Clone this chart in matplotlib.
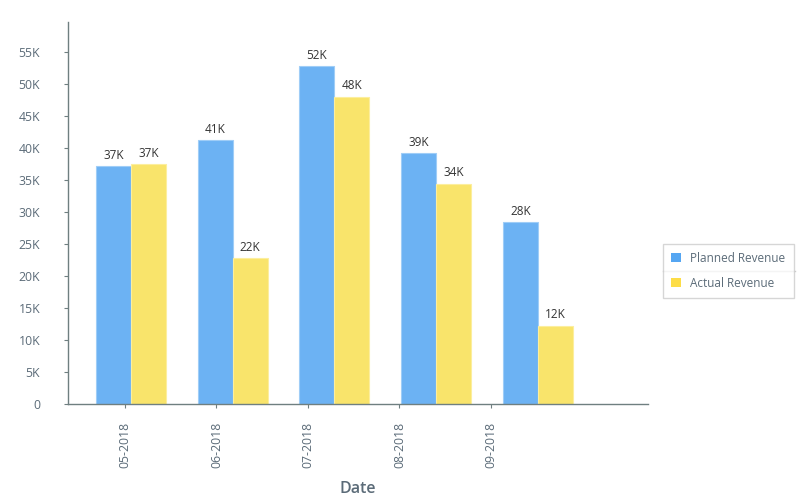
import matplotlib.pyplot as plt
from matplotlib.patches import Patch
from matplotlib.lines import Line2D

dates = ['05-2018', '06-2018', '07-2018', '08-2018', '09-2018']
planned = [37200, 41250, 52800, 39200, 28400]
actual = [37500, 22800, 48000, 34400, 12200]
y_ticks = [0, 5000, 10000, 15000, 20000, 25000, 30000, 35000, 40000, 45000, 50000, 55000]
y_labels = ['0'] + ['%dK' % (v // 1000) for v in y_ticks[1:]]

blue = '#6cb2f3'
yellow = '#f9e46b'
axis_col = '#6f7f80'
text_col = '#5b6b78'

plt.rcParams['font.family'] = ['Open Sans', 'DejaVu Sans']

fig = plt.figure(figsize=(8, 4.96), dpi=100)
ax = fig.add_axes([0.085, 0.1855, 0.725, 0.7701])

w = 0.344
for i in range(len(dates)):
    ax.bar(i - w / 2, planned[i], w, color=blue, edgecolor='#9fcdf7', linewidth=0.8)
    ax.bar(i + w / 2, actual[i], w, color=yellow, edgecolor='#fcee9e', linewidth=0.8)
    ax.text(i - w / 2, planned[i] + 700, '%dK' % (planned[i] // 1000), ha='center', va='bottom',
            fontsize=8.5, color='#333333')
    ax.text(i + w / 2, actual[i] + 700, '%dK' % (actual[i] // 1000), ha='center', va='bottom',
            fontsize=8.5, color='#333333')

ax.set_xlim(-0.619, 5.081)
ax.set_ylim(0, 59700)

# category ticks are spaced a bit tighter than the bar groups in the original
ax.set_xticks([-0.059 + i * 0.899 for i in range(len(dates))])
ax.set_xticklabels(dates, rotation=90, fontsize=8.8, color=text_col)
ax.set_yticks(y_ticks)
ax.set_yticklabels(y_labels, fontsize=8.8, color=text_col)

ax.tick_params(axis='y', length=3, color=axis_col, pad=17)
ax.tick_params(axis='x', length=3, color=axis_col, pad=10)

for s in ['top', 'right']:
    ax.spines[s].set_visible(False)
for s in ['left', 'bottom']:
    ax.spines[s].set_color(axis_col)
    ax.spines[s].set_linewidth(1)

ax.set_xlabel('Date', fontsize=11.5, color=text_col, fontweight='semibold', labelpad=9)

handles = [Patch(facecolor='#55a6f2', edgecolor='none'), Patch(facecolor='#fddd47', edgecolor='none')]
leg = fig.legend(handles, ['Planned Revenue', 'Actual Revenue'], loc='center left',
                 bbox_to_anchor=(0.829, 0.454), borderaxespad=0, frameon=True, fancybox=False,
                 fontsize=8.5, labelcolor=text_col, handlelength=0.8, handleheight=0.8,
                 labelspacing=1.0, borderpad=0.7, handletextpad=0.8, edgecolor='#cccccc')
leg.get_frame().set_linewidth(1)
fig.add_artist(Line2D([0.829, 0.994], [0.454, 0.454], color='#cccccc', lw=1))

fig.savefig('out.png', dpi=100)
